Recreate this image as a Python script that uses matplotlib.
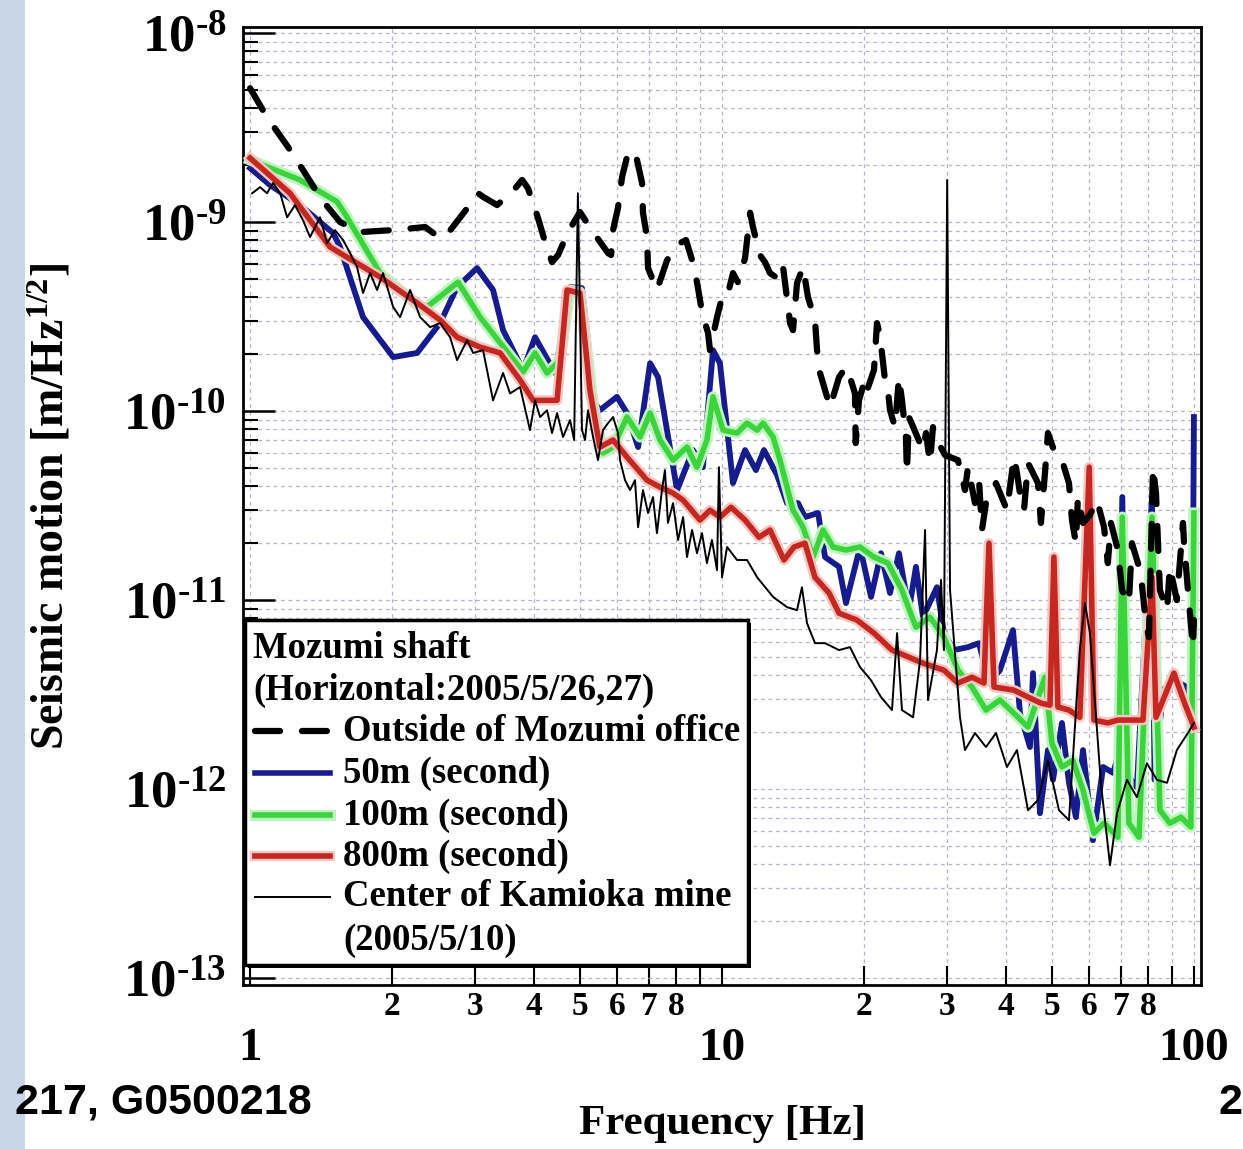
import numpy as np
import matplotlib
matplotlib.use("Agg")
import matplotlib.pyplot as plt
from matplotlib import ticker
from matplotlib import patheffects as pe
from matplotlib.patches import Rectangle
from matplotlib.lines import Line2D

# ---- data (frequency in Hz, amplitude in m/Hz^1/2) ----
freq_outside = [1.00, 1.086, 1.204, 1.295, 1.42, 1.551, 1.711, 2.01, 2.349, 2.527,
                2.628, 2.897, 3.042, 3.116, 3.337, 3.591, 3.77, 3.88, 4.075, 4.217,
                4.363, 4.493, 4.718, 5.00, 5.33, 5.735, 5.82, 5.877, 6.02, 6.14,
                6.32, 6.45, 6.605, 6.77, 6.80, 6.935, 6.97, 7.28, 7.65, 8.15,
                8.39, 8.64, 8.85, 9.07, 9.34, 9.43, 9.76, 10.05, 10.3, 10.55,
                10.8, 11.19, 11.47, 11.63, 12.03, 12.33, 12.64, 13.27, 13.47, 13.94,
                14.14, 14.42, 14.85, 15.21, 15.74, 15.9, 16.13, 16.69, 16.94, 17.70,
                18.31, 18.67, 19.13, 19.2, 19.51, 19.99, 20.19, 20.99, 21.30, 21.61,
                22.15, 22.47, 22.70, 23.26, 23.71, 24.06, 24.53, 24.65, 24.89, 26.66,
                27.05, 27.59, 27.99, 28.54, 29.68, 31.62, 32.72, 33.21, 34.36, 35.04,
                35.55, 36.25, 37.51, 38.07, 40.16, 41.55, 42.17, 43.0, 43.64, 44.5,
                46.72, 47.4, 48.34, 49.05, 50.75, 52.52, 54.35, 55.15, 56.23, 56.78,
                58.2, 60.2, 62.3, 64.5, 65.7, 66.7, 69.0, 70.4, 72.8, 73.9,
                76.5, 77.6, 79.1, 80.3, 81.9, 83.1, 84.7, 87.7, 88.9, 92.0,
                94.8, 95.3, 97.1, 99.5, 100]
amp_outside = [5.1e-9, 3.59e-9, 2.49e-9, 1.88e-9, 1.31e-9, 1.0e-9, 8.85e-10, 9.07e-10, 9.41e-10, 8.23e-10,
               8.75e-10, 1.20e-9, 1.42e-9, 1.36e-9, 1.23e-9, 1.44e-9, 1.67e-9, 1.51e-9, 1.05e-9, 7.84e-10,
               6.14e-10, 6.69e-10, 8.85e-10, 1.13e-9, 8.85e-10, 6.85e-10, 6.69e-10, 9.07e-10, 1.19e-9, 1.73e-9,
               2.32e-9, 2.40e-9, 2.13e-9, 1.61e-9, 1.12e-9, 8.33e-10, 5.71e-10, 4.37e-10, 6.30e-10, 7.74e-10,
               8.03e-10, 6.30e-10, 4.81e-10, 3.34e-10, 2.59e-10, 2.10e-10, 3.14e-10, 4.21e-10, 4.21e-10, 5.37e-10,
               4.81e-10, 6.45e-10, 1.12e-9, 9.41e-10, 6.69e-10, 6.14e-10, 5.37e-10, 4.93e-10, 5.78e-10, 2.92e-10,
               2.68e-10, 4.76e-10, 5.78e-10, 4.01e-10, 3.03e-10, 2.10e-10, 1.59e-10, 1.19e-10, 1.05e-10, 1.51e-10,
               1.71e-10, 1.51e-10, 1.24e-10, 6.77e-11, 1.14e-10, 1.41e-10, 1.24e-10, 1.65e-10, 2.92e-10, 2.52e-10,
               1.46e-10, 1.29e-10, 1.01e-10, 8.23e-11, 1.51e-10, 1.14e-10, 7.29e-11, 4.70e-11, 9.30e-11, 6.22e-11,
               7.65e-11, 5.31e-11, 8.23e-11, 7.03e-11, 5.85e-11, 5.50e-11, 3.82e-11, 5.05e-11, 3.26e-11, 4.31e-11,
               2.35e-11, 3.26e-11, 3.82e-11, 4.16e-11, 2.99e-11, 5.71e-11, 4.70e-11, 3.38e-11, 2.99e-11, 5.31e-11,
               4.16e-11, 2.56e-11, 4.70e-11, 7.65e-11, 6.0e-11, 5.50e-11, 4.16e-11, 2.65e-11, 2.00e-11, 3.51e-11,
               2.56e-11, 2.82e-11, 3.38e-11, 2.43e-11, 1.57e-11, 2.56e-11, 1.84e-11, 1.13e-11, 9.64e-12, 2.00e-11,
               1.50e-11, 1.20e-11, 7.55e-12, 6.37e-12, 5.05e-11, 3.68e-11, 1.13e-11, 8.85e-12, 1.50e-11, 1.0e-11,
               2.56e-11, 2.0e-11, 1.13e-11, 5.64e-12, 7.84e-12]

freq_50m = [1.00, 1.102, 1.276, 1.499, 1.551, 1.735, 2.01, 2.259, 2.527, 2.745,
            3.027, 3.272, 3.436, 3.788, 4.016, 4.429, 4.764, 5.05, 5.38, 5.51,
            5.99, 6.29, 6.64, 7.04, 7.32, 8.03, 8.68, 9.11, 9.57, 9.90,
            10.55, 11.19, 11.80, 12.27, 13.08, 13.73, 14.49, 14.99, 15.98, 16.53,
            17.70, 18.31, 19.61, 20.69, 21.72, 22.70, 23.71, 24.89, 25.76, 26.66,
            28.54, 29.53, 31.01, 33.21, 35.04, 36.79, 38.81, 41.36, 42.8, 44.93,
            45.6, 47.18, 49.05, 50.27, 52.52, 54.35, 56.23, 58.2, 61.1, 64.2,
            67.4, 69.0, 70.5, 71.8, 75.7, 81.5, 82.5, 86.0, 90.3, 96.7,
            99.0, 100]
amp_50m = [1.93e-9, 1.57e-9, 1.23e-9, 8.75e-10, 7.38e-10, 3.14e-10, 1.93e-10, 2.03e-10, 2.92e-10, 4.53e-10,
           5.71e-10, 4.37e-10, 2.68e-10, 1.65e-10, 2.46e-10, 1.59e-10, 4.53e-10, 4.47e-10, 1.10e-10, 1.01e-10,
           1.19e-10, 9.76e-11, 6.45e-11, 1.79e-10, 1.51e-10, 3.82e-11, 6.22e-11, 5.05e-11, 2.10e-10, 1.79e-10,
           4.16e-11, 6.22e-11, 4.87e-11, 6.22e-11, 4.59e-11, 3.26e-11, 3.26e-11, 2.75e-11, 2.89e-11, 1.69e-11,
           1.50e-11, 9.64e-12, 1.91e-11, 1.04e-11, 1.77e-11, 1.09e-11, 1.77e-11, 8.85e-12, 1.50e-11, 8.13e-12,
           1.17e-11, 6.69e-12, 5.44e-12, 5.64e-12, 5.92e-12, 3.64e-12, 4.26e-12, 6.94e-12, 2.52e-12, 1.67e-12,
           4.11e-12, 7.46e-13, 1.61e-12, 1.12e-12, 2.24e-12, 1.08e-12, 7.11e-13, 1.61e-12, 5.37e-13, 1.31e-12,
           1.22e-12, 1.48e-12, 3.51e-11, 1.22e-12, 1.02e-12, 3.51e-11, 1.12e-12, 3.34e-12, 3.77e-12, 3.47e-12,
           1.67e-12, 9.3e-11]

freq_100m = [1.00, 1.276, 1.529, 1.605, 1.885, 2.326, 2.758, 3.071, 3.788, 4.016,
             4.259, 4.537, 4.764, 5.00, 5.33, 5.595, 5.877, 6.29, 6.705, 7.04,
             7.39, 7.875, 8.43, 8.85, 9.29, 9.57, 10.05, 10.76, 11.30, 11.87,
             12.22, 12.83, 13.27, 14.14, 14.85, 15.59, 16.37, 17.19, 18.31, 19.61,
             20.99, 22.47, 24.06, 25.76, 27.59, 29.53, 31.62, 33.86, 36.25, 38.81,
             41.55, 44.5, 48.34, 50.02, 52.52, 55.4, 58.2, 61.4, 64.5, 69.0,
             70.5, 72.8, 76.5, 81.5, 84.7, 88.9, 93.9, 98.5, 100]
amp_100m = [2.13e-9, 1.67e-9, 1.28e-9, 1.06e-9, 5.37e-10, 3.42e-10, 4.81e-10, 3.14e-10, 1.61e-10, 2.03e-10,
            1.59e-10, 1.86e-10, 4.37e-10, 4.26e-10, 1.10e-10, 6.0e-11, 6.45e-11, 9.30e-11, 7.29e-11, 9.76e-11,
            7.03e-11, 5.50e-11, 6.45e-11, 5.05e-11, 7.03e-11, 1.19e-10, 7.93e-11, 7.65e-11, 8.64e-11, 7.93e-11,
            8.64e-11, 7.29e-11, 5.50e-11, 2.99e-11, 2.43e-11, 1.69e-11, 2.35e-11, 1.91e-11, 1.84e-11, 1.91e-11,
            1.69e-11, 1.57e-11, 1.13e-11, 7.19e-12, 8.13e-12, 6.37e-12, 4.26e-12, 3.47e-12, 2.62e-12, 2.96e-12,
            2.52e-12, 2.13e-12, 3.91e-12, 1.75e-12, 1.31e-12, 1.42e-12, 9.88e-13, 5.85e-13, 6.61e-13, 5.57e-13,
            2.75e-11, 6.61e-13, 5.57e-13, 2.75e-11, 7.74e-13, 6.61e-13, 7.11e-13, 6.30e-13, 2.89e-11]

freq_800m = [1.00, 1.215, 1.477, 1.885, 2.259, 2.527, 2.745, 3.071, 3.386, 3.733,
             3.978, 4.472, 4.695, 5.00, 5.25, 5.51, 5.877, 6.29, 6.935, 7.39,
             7.875, 8.27, 8.98, 9.43, 9.90, 10.45, 11.19, 11.98, 12.64, 13.53,
             14.21, 14.99, 15.74, 16.86, 17.70, 19.32, 20.99, 22.92, 24.89, 26.66,
             29.53, 31.62, 33.86, 35.9, 36.79, 37.7, 41.55, 44.5, 47.4, 49.54,
             50.5, 51.5, 54.35, 57.3, 60.0, 61.4, 65.7, 69.0, 73.9, 78.0,
             81.5, 83.1, 90.7, 95.0, 100]
amp_800m = [2.18e-9, 1.42e-9, 7.38e-10, 5.12e-10, 3.73e-10, 3.03e-10, 2.46e-10, 2.18e-10, 2.03e-10, 1.46e-10,
            1.14e-10, 1.14e-10, 4.37e-10, 4.21e-10, 1.29e-10, 6.45e-11, 7.03e-11, 5.71e-11, 4.31e-11, 3.96e-11,
            3.68e-11, 3.38e-11, 2.65e-11, 2.99e-11, 2.75e-11, 3.10e-11, 2.65e-11, 2.15e-11, 2.35e-11, 1.63e-11,
            1.91e-11, 2.00e-11, 1.32e-11, 1.09e-11, 8.53e-12, 7.84e-12, 6.69e-12, 5.44e-12, 4.99e-12, 4.64e-12,
            4.26e-12, 3.64e-12, 3.91e-12, 3.64e-12, 2.0e-11, 3.47e-12, 3.34e-12, 3.07e-12, 2.85e-12, 2.78e-12,
            1.69e-11, 2.72e-12, 2.62e-12, 2.40e-12, 5.05e-11, 2.32e-12, 2.24e-12, 2.32e-12, 2.32e-12, 2.32e-12,
            1.32e-11, 2.40e-12, 4.11e-12, 2.96e-12, 2.13e-12]

freq_mine = [1.01, 1.050, 1.086, 1.119, 1.158, 1.198, 1.245, 1.295, 1.340, 1.407,
             1.456, 1.514, 1.574, 1.629, 1.685, 1.735, 1.796, 1.858, 1.913, 2.01,
             2.079, 2.183, 2.292, 2.407, 2.527, 2.653, 2.745, 2.883, 2.969, 3.116,
             3.272, 3.436, 3.555, 3.733,
             3.918, 4.016, 4.116, 4.259, 4.363, 4.472, 4.604, 4.764, 4.86, 4.95,
             5.05, 5.126, 5.20, 5.33, 5.46, 5.595, 5.735, 5.877, 6.02, 6.08,
             6.23, 6.385, 6.54, 6.64, 6.80, 6.97, 7.14, 7.28, 7.46, 7.57,
             7.68, 7.875, 8.07, 8.27, 8.43, 8.64, 8.85, 9.07, 9.29, 9.52,
             9.76, 9.85, 10.0, 10.25, 10.76, 11.30, 11.87,
             12.83, 13.73, 14.42, 14.77, 15.14, 15.74, 16.53, 17.70, 18.67, 19.61,
             20.69, 21.72, 22.92, 23.49, 24.06, 25.4, 26.28, 26.93, 27.32, 28.54,
             29.11, 29.53, 30.0, 30.42, 31.93, 32.72, 34.36, 36.25, 38.07, 40.16,
             42.17, 44.5, 46.72, 49.05, 51.76, 54.35, 57.3, 58.76, 60.2, 63.5,
             66.4, 68.7, 72.1, 75.7, 79.5, 83.5, 87.7, 92.0, 97.1, 100]
amp_mine = [1.42e-9, 1.53e-9, 1.42e-9, 1.61e-9, 1.42e-9, 1.06e-9, 1.23e-9, 1.02e-9, 8.33e-10, 1.06e-9,
            7.74e-10, 9.07e-10, 8.03e-10, 6.85e-10, 5.78e-10, 4.21e-10, 5.37e-10, 4.37e-10, 5.37e-10, 3.55e-10,
            3.14e-10, 4.37e-10, 3.14e-10, 2.78e-10, 2.92e-10, 2.46e-10, 1.86e-10, 2.37e-10, 2.03e-10, 2.10e-10,
            1.14e-10, 1.59e-10, 1.24e-10, 1.34e-10,
            7.93e-11, 1.14e-10, 9.30e-11, 1.01e-10, 7.65e-11, 9.76e-11, 7.29e-11, 8.96e-11, 7.03e-11, 1.42e-9,
            7.93e-11, 7.03e-11, 1.01e-10, 7.29e-11, 5.50e-11, 7.93e-11, 8.64e-11, 9.30e-11, 7.65e-11, 5.50e-11,
            4.31e-11, 3.82e-11, 4.31e-11, 2.43e-11, 3.82e-11, 2.89e-11, 3.51e-11, 2.26e-11, 3.82e-11, 4.87e-11,
            2.56e-11, 3.26e-11, 2.08e-11, 2.75e-11, 1.69e-11, 2.35e-11, 1.77e-11, 2.26e-11, 1.57e-11, 2.08e-11,
            1.44e-11, 5.05e-11, 1.32e-11, 1.91e-11, 1.63e-11, 1.63e-11, 1.32e-11,
            1.04e-11, 9.18e-12, 8.85e-12, 1.17e-11, 7.55e-12, 5.92e-12, 5.92e-12, 5.44e-12, 5.64e-12, 4.42e-12,
            3.77e-12, 3.07e-12, 2.62e-12, 6.69e-12, 2.62e-12, 2.40e-12, 4.81e-12, 2.35e-11, 2.96e-12, 5.44e-12,
            1.28e-11, 5.44e-12, 1.67e-9, 1.13e-11, 2.40e-12, 1.61e-12, 1.98e-12, 1.67e-12, 1.98e-12, 1.31e-12,
            1.61e-12, 7.74e-13, 8.75e-13, 1.42e-12, 7.74e-13, 6.85e-13, 5.44e-12, 9.64e-12, 6.69e-12, 1.08e-12,
            3.96e-13, 7.46e-13, 1.12e-12, 9.07e-13, 1.37e-12, 1.12e-12, 1.08e-12, 1.61e-12, 1.98e-12, 2.24e-12]

legend_header = ["Mozumi shaft", "(Horizontal:2005/5/26,27)"]
legend_labels = ["Outside of Mozumi office", "50m (second)", "100m (second)",
                 "800m (second)", "Center of Kamioka mine"]
y_decades = [1e-13, 1e-12, 1e-11, 1e-10, 1e-9, 1e-8]
x_decades = [1, 10, 100]

# ---- styles ----
BLUE = '#161c8e'
GREEN = '#3cd43c'
RED = '#c42820'
green_glow = [pe.Stroke(linewidth=8, foreground='#bff3bf'), pe.Normal()]
red_glow = [pe.Stroke(linewidth=7.5, foreground='#f5c6c2'), pe.Normal()]

plt.rcParams['font.family'] = ['Liberation Serif', 'DejaVu Serif']
plt.rcParams['font.weight'] = 'bold'
plt.rcParams['mathtext.fontset'] = 'custom'
plt.rcParams['mathtext.rm'] = 'Liberation Serif:bold'
plt.rcParams['mathtext.it'] = 'Liberation Serif:bold'
plt.rcParams['mathtext.bf'] = 'Liberation Serif:bold'

fig = plt.figure(figsize=(12.43, 11.49), dpi=100)
# strip of the slide background on the left edge
fig.patches.append(Rectangle((0, 0), 25 / 1243, 1, transform=fig.transFigure,
                             facecolor='#c9d6ea', edgecolor='none', zorder=0))

ax = fig.add_axes([0.1955, 0.1427, 0.7707, 0.8338])
ax.set_xscale('log')
ax.set_yscale('log')

ax.plot(freq_50m, amp_50m, color=BLUE, lw=4.2, zorder=3, solid_joinstyle='round')
ax.plot(freq_100m, amp_100m, color=GREEN, lw=4.0, zorder=4, solid_joinstyle='round',
        path_effects=green_glow)
ax.plot(freq_800m, amp_800m, color=RED, lw=4.0, zorder=5, solid_joinstyle='round',
        path_effects=red_glow)
ax.plot(freq_outside, amp_outside, color='black', lw=4.5, dashes=(4, 3.5),
        dash_capstyle='round', zorder=6)
ax.plot(freq_mine, amp_mine, color='black', lw=1.4, zorder=7)

ax.set_xlim(0.966, 103.5)
ax.set_ylim(9.2e-14, 1.076e-8)

# ticks
ax.xaxis.set_major_locator(ticker.FixedLocator(x_decades))
ax.xaxis.set_minor_locator(ticker.LogLocator(base=10, subs=np.arange(2, 10), numticks=10))
ax.xaxis.set_major_formatter(ticker.FuncFormatter(lambda v, p: f'{v:g}'))


def minor_x(v, p):
    d = int(round(v / 10 ** np.floor(np.log10(v) + 1e-9)))
    return str(d) if d <= 8 else ''


def major_y(v, p):
    e = int(round(np.log10(v)))
    return r'$10^{\text{-}%d}$' % abs(e)


ax.xaxis.set_minor_formatter(ticker.FuncFormatter(minor_x))
ax.yaxis.set_major_locator(ticker.FixedLocator(y_decades))
ax.yaxis.set_minor_locator(ticker.LogLocator(base=10, subs=np.arange(2, 10), numticks=12))
ax.yaxis.set_major_formatter(ticker.FuncFormatter(major_y))
ax.yaxis.set_minor_formatter(ticker.NullFormatter())

ax.tick_params(axis='both', which='both', direction='in', top=False, right=False)
ax.tick_params(axis='y', which='major', length=23, width=1.8, pad=12, labelsize=38)
ax.tick_params(axis='y', which='minor', length=11, width=1.5)
ax.tick_params(axis='x', which='major', length=14, width=1.5, pad=31, labelsize=34)
ax.tick_params(axis='x', which='minor', length=14, width=1.5, pad=4, labelsize=24)

ax.grid(True, which='both', color='#b0b4cc', linestyle=(0, (3, 3)), linewidth=0.9)
ax.set_axisbelow(True)
for s in ax.spines.values():
    s.set_linewidth(2)

# legend box, drawn by hand (ROOT style)
ax.add_patch(Rectangle((0.0051, 0.0179), 0.525, 0.360, transform=ax.transAxes,
                       facecolor='black', edgecolor='none', zorder=9))
ax.add_patch(Rectangle((0.0021, 0.0209), 0.525, 0.360, transform=ax.transAxes,
                       facecolor='white', edgecolor='black', lw=2.5, zorder=10))
ax.text(0.0104, 0.3518, legend_header[0], transform=ax.transAxes, fontsize=26.5,
        va='center', ha='left', zorder=11)
ax.text(0.0104, 0.3077, legend_header[1], transform=ax.transAxes, fontsize=26.5,
        va='center', ha='left', zorder=11)
row_y = [0.2651, 0.2213, 0.1775, 0.1347, 0.0919]
handles = [dict(color='black', lw=4.5, dashes=(4, 3.5), dash_capstyle='round'),
           dict(color=BLUE, lw=4.0),
           dict(color=GREEN, lw=4.0, path_effects=green_glow),
           dict(color=RED, lw=4.0, path_effects=red_glow),
           dict(color='black', lw=1.4)]
for y, lab, st in zip(row_y, legend_labels, handles):
    ax.add_line(Line2D([0.0125, 0.0908], [y, y], transform=ax.transAxes, zorder=11, **st))
    ax.text(0.1044, y, lab, transform=ax.transAxes, fontsize=26.5, va='center',
            ha='left', zorder=11)
ax.text(0.1044, 0.0470, "(2005/5/10)", transform=ax.transAxes, fontsize=26.5,
        va='center', ha='left', zorder=11)

# axis titles
fig.text(50 / 1243, 0.5596, r'Seismic motion [m/Hz$^{1/2}$]', rotation=90,
         ha='center', va='center', fontsize=33)
fig.text(0.581, 1 - 1124 / 1149, 'Frequency [Hz]', ha='center', va='center', fontsize=31)

# slide footer fragments
fig.text(312 / 1243, 1 - 1103 / 1149, '217, G0500218', ha='right', va='center',
         fontsize=31, family='Liberation Sans', weight='bold')
fig.text(1218 / 1243, 1 - 1103 / 1149, '2', ha='left', va='center',
         fontsize=31, family='Liberation Sans', weight='bold')

fig.savefig('out.png', dpi=100)
